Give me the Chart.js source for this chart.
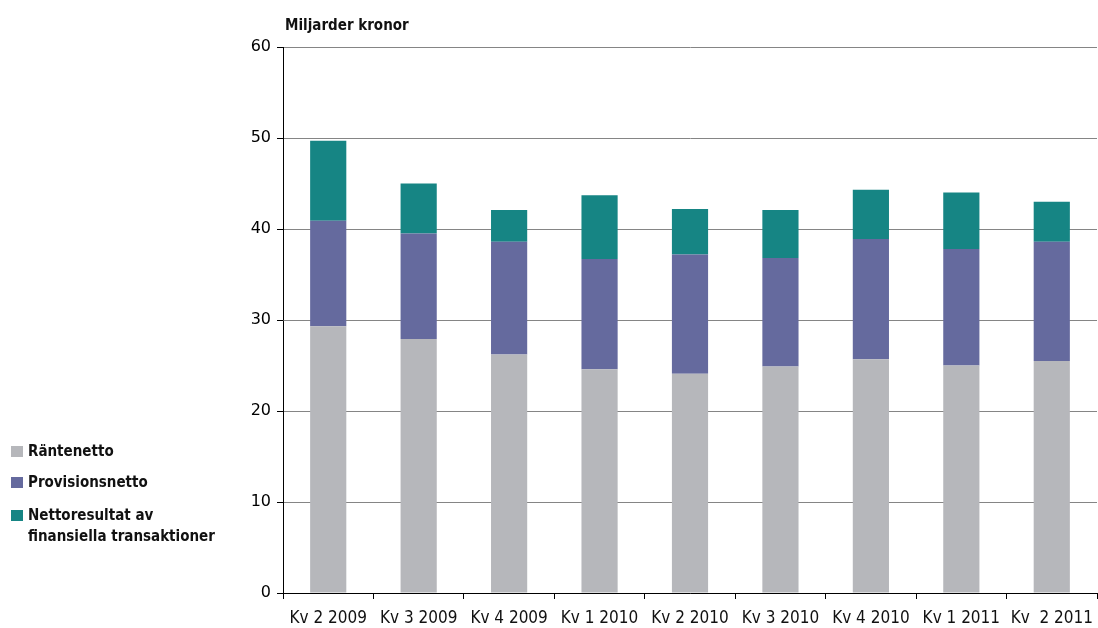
<!DOCTYPE html>
<html>
<head>
<meta charset="utf-8">
<script src="https://cdn.jsdelivr.net/npm/chart.js@4"></script>
<style>
  body { margin: 0; background: #fff; }
  #wrap { position: relative; width: 1098px; height: 628px; }
</style>
</head>
<body>
<div id="wrap"><canvas id="bar-chart"></canvas></div>
<script>
// quarters and the three income components (billion SEK)
var quarters = ["Kv 2 2009", "Kv 3 2009", "Kv 4 2009", "Kv 1 2010", "Kv 2 2010",
                "Kv 3 2010", "Kv 4 2010", "Kv 1 2011", "Kv  2 2011"];
var rantenetto = [29.3, 27.9, 26.2, 24.6, 24.1, 24.9, 25.7, 25.0, 25.5];
var provisionsnetto = [11.6, 11.6, 12.4, 12.1, 13.1, 11.9, 13.2, 12.8, 13.1];
var nettoresultat = [8.8, 5.5, 3.5, 7.0, 5.0, 5.3, 5.4, 6.2, 4.4];
var yTicks = [0, 10, 20, 30, 40, 50, 60];

var seriesNames = ["Räntenetto", "Provisionsnetto", ["Nettoresultat av", "finansiella transaktioner"]];
var seriesColors = ["#b6b7bb", "#656a9e", "#168584"];

var narrow = "'Liberation Sans Narrow', 'DejaVu Sans Condensed', sans-serif";

// unit label above the y axis + legend down on the left
var extras = {
  id: 'extras',
  afterDraw: function (chart) {
    var ctx = chart.ctx;
    ctx.save();
    ctx.fillStyle = '#111';
    ctx.textBaseline = 'alphabetic';
    ctx.textAlign = 'left';
    ctx.font = "bold 15px " + narrow;
    ctx.fillText("Miljarder kronor", chart.chartArea.left + 2, 30);

    var ys = [452, 483, 516];
    chart.data.datasets.forEach(function (ds, i) {
      ctx.fillStyle = ds.backgroundColor;
      ctx.fillRect(11, ys[i] - 6, 12, 11);
      ctx.fillStyle = '#111';
      ctx.textBaseline = 'middle';
      var lines = [].concat(ds.legendText);
      lines.forEach(function (t, j) {
        ctx.fillText(t, 28, ys[i] + j * 21);
      });
    });
    ctx.restore();
  }
};

new Chart(document.getElementById("bar-chart"), {
  type: 'bar',
  data: {
    labels: quarters,
    datasets: [rantenetto, provisionsnetto, nettoresultat].map(function (d, i) {
      return {
        label: [].concat(seriesNames[i]).join(" "),
        legendText: seriesNames[i],
        data: d,
        backgroundColor: seriesColors[i],
        categoryPercentage: 1,
        barPercentage: 0.4
      };
    })
  },
  plugins: [extras],
  options: {
    responsive: true,
    maintainAspectRatio: false,
    animation: false,
    layout: { padding: { top: 47, right: 1, left: 0, bottom: 0 } },
    plugins: {
      legend: { display: false },
      tooltip: { enabled: false }
    },
    scales: {
      x: {
        stacked: true,
        afterFit: function (s) { s.height = 35; s.paddingLeft = 0; s.paddingRight = 0; },
        grid: { drawOnChartArea: false, tickLength: 6, tickColor: '#000', offset: true },
        border: { color: '#000', width: 1 },
        ticks: { color: '#111', font: { family: narrow, size: 17 }, padding: 9, maxRotation: 0, autoSkip: false }
      },
      y: {
        stacked: true,
        min: 0,
        max: 60,
        afterFit: function (s) { s.width = 283; },
        afterBuildTicks: function (s) { s.ticks = yTicks.map(function (v) { return { value: v }; }); },
        grid: { color: '#858585', lineWidth: 1, tickLength: 6, tickColor: '#000' },
        border: { color: '#000', width: 1 },
        ticks: { color: '#000', font: { family: "'DejaVu Sans', sans-serif", size: 16 }, padding: 6 }
      }
    }
  }
});
</script>
</body>
</html>
